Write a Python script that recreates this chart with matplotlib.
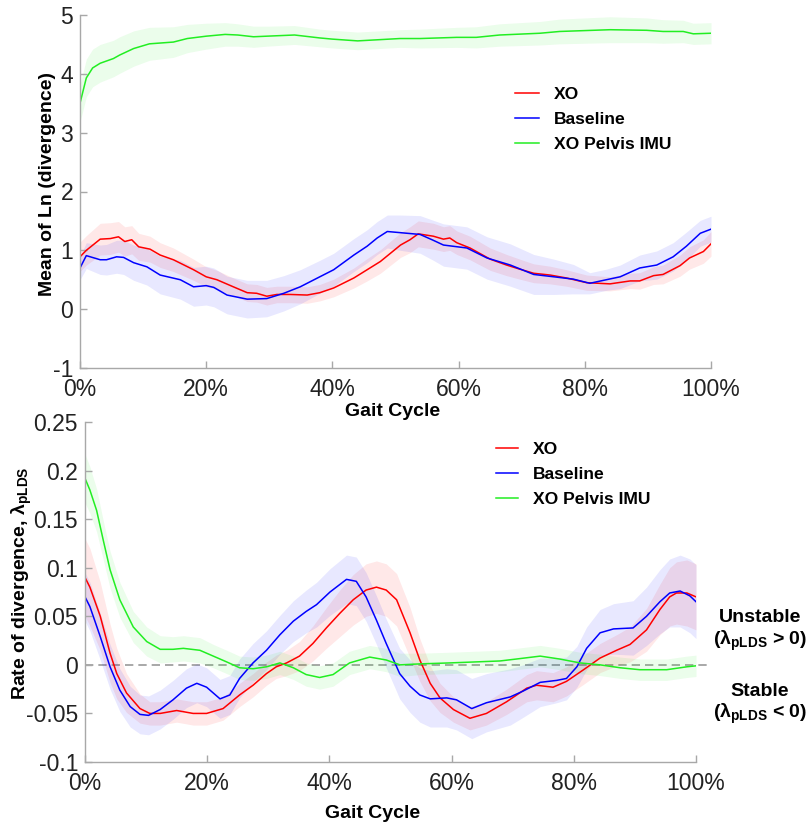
import numpy as np
import matplotlib
matplotlib.use('Agg')
import matplotlib.pyplot as plt
from matplotlib.ticker import FuncFormatter

plt.rcParams['font.family'] = ['Liberation Sans', 'DejaVu Sans']
plt.rcParams['axes.unicode_minus'] = False
plt.rcParams['mathtext.fontset'] = 'custom'
plt.rcParams['mathtext.rm'] = 'Liberation Sans'
plt.rcParams['mathtext.bf'] = 'Liberation Sans:bold'
plt.rcParams['mathtext.it'] = 'Liberation Sans:italic'

# ---- top panel: mean of ln(divergence) ----
top_xo_x = [0, 1, 3.2, 4.8, 6.1, 7.1, 8.2, 9.3, 11.1, 12.7, 14.8, 18, 20, 21.7, 24.3, 26.5, 28, 29.6,
            31.2, 33.3, 36, 38, 40.2, 43.4, 45.5, 47.6, 50.8, 52.3, 53.6, 56, 57.6, 58.6, 59.7, 61.8,
            65, 67.6, 69.7, 71.9, 74.5, 77.1, 80.3, 84, 87.2, 88.7, 90.9, 92.4, 95.1, 96.6, 98.8, 100]
top_xo_y = [0.89, 1.0, 1.19, 1.2, 1.23, 1.15, 1.18, 1.06, 1.02, 0.92, 0.84, 0.67, 0.55, 0.5, 0.38, 0.28, 0.27, 0.22,
            0.25, 0.25, 0.24, 0.28, 0.36, 0.53, 0.67, 0.81, 1.09, 1.18, 1.28, 1.24, 1.19, 1.21, 1.13, 1.04,
            0.85, 0.75, 0.68, 0.61, 0.58, 0.53, 0.45, 0.43, 0.48, 0.48, 0.57, 0.59, 0.74, 0.87, 0.98, 1.11]
top_xo_sd = [0.25, 0.25, 0.27, 0.27, 0.26, 0.25, 0.24, 0.23, 0.22, 0.21, 0.2, 0.18, 0.17, 0.16, 0.15, 0.15, 0.15, 0.15,
             0.14, 0.14, 0.14, 0.14, 0.15, 0.17, 0.19, 0.2, 0.21, 0.22, 0.22, 0.22, 0.21, 0.21, 0.2, 0.2,
             0.19, 0.18, 0.17, 0.16, 0.15, 0.14, 0.13, 0.12, 0.13, 0.14, 0.15, 0.16, 0.18, 0.19, 0.2, 0.21]

top_bl_x = [0, 1, 3.2, 4.2, 5.8, 6.9, 8.5, 10.6, 12.7, 15.9, 18, 20, 21.2, 23.3, 26.5, 29.6, 32.3, 34.9,
            38, 40.2, 43.4, 45.5, 47.1, 48.7, 50.8, 53.9, 56, 57.6, 61.3, 64.5, 68.2, 71.9, 75.1, 78.2,
            80.8, 83.4, 85.6, 88.7, 91.4, 94, 96.1, 98.3, 100]
top_bl_y = [0.7, 0.91, 0.84, 0.84, 0.89, 0.88, 0.79, 0.72, 0.58, 0.5, 0.38, 0.4, 0.37, 0.24, 0.17, 0.18, 0.27, 0.38,
            0.55, 0.67, 0.92, 1.07, 1.21, 1.32, 1.3, 1.27, 1.17, 1.09, 1.04, 0.87, 0.75, 0.59, 0.55, 0.51,
            0.44, 0.5, 0.55, 0.7, 0.75, 0.89, 1.07, 1.29, 1.36]
top_bl_sd = [0.2, 0.22, 0.25, 0.26, 0.28, 0.29, 0.3, 0.31, 0.32, 0.33, 0.33, 0.33, 0.33, 0.32, 0.32, 0.31, 0.3, 0.29,
             0.28, 0.28, 0.28, 0.28, 0.28, 0.28, 0.3, 0.32, 0.34, 0.36, 0.36, 0.36, 0.36, 0.34, 0.3, 0.25,
             0.18, 0.18, 0.2, 0.22, 0.24, 0.24, 0.24, 0.22, 0.22]

top_imu_x = [0, 1, 2, 3.2, 5.3, 6.3, 8.5, 11, 14.8, 17, 20, 23, 25, 27.5, 29.6, 34, 38, 40, 44, 50.7,
             53.9, 59.7, 62.8, 66.5, 72.9, 76, 84, 89.8, 92.4, 95.6, 97.2, 100]
top_imu_y = [3.5, 3.93, 4.1, 4.18, 4.26, 4.32, 4.43, 4.51, 4.54, 4.6, 4.64, 4.67, 4.66, 4.63, 4.64, 4.66, 4.61, 4.59,
             4.56, 4.6, 4.6, 4.62, 4.62, 4.66, 4.69, 4.72, 4.75, 4.74, 4.72, 4.72, 4.68, 4.69]
top_imu_sd = [0.32, 0.32, 0.32, 0.32, 0.31, 0.31, 0.3, 0.28, 0.26, 0.24, 0.22, 0.2, 0.19, 0.18, 0.17, 0.16, 0.15, 0.15,
              0.15, 0.15, 0.16, 0.17, 0.18, 0.19, 0.2, 0.21, 0.22, 0.21, 0.2, 0.19, 0.18, 0.18]

# ---- bottom panel: rate of divergence ----
bot_xo_x = [0, 0.8, 2.5, 4.1, 5.2, 6.8, 9, 10.6, 12.3, 15, 17.7, 19.9, 22.6, 25.3, 27.5, 29.7, 31.3, 33,
            35.1, 37.3, 39.5, 41.7, 43.9, 46, 47.7, 49.3, 51, 53.2, 54.8, 56.5, 58.1, 60.3, 63, 65.7,
            69, 72.3, 73.9, 76.6, 78.8, 81.6, 84.3, 87, 89.2, 91.9, 94.1, 95.7, 96.8, 98.5, 100]
bot_xo_y = [0.09, 0.08, 0.05, 0.012, -0.009, -0.029, -0.045, -0.05, -0.05, -0.047, -0.05, -0.05, -0.045, -0.031,
            -0.021, -0.009, -0.002, 0.002, 0.009, 0.022, 0.038, 0.053, 0.067, 0.077, 0.08, 0.077, 0.067, 0.033,
            0.005, -0.019, -0.034, -0.046, -0.055, -0.05, -0.038, -0.024, -0.021, -0.023, -0.017, -0.005,
            0.007, 0.015, 0.021, 0.036, 0.057, 0.07, 0.074, 0.074, 0.07]
bot_xo_sd = [0.04, 0.04, 0.035, 0.03, 0.026, 0.02, 0.015, 0.012, 0.012, 0.012, 0.012, 0.012, 0.012, 0.012,
             0.012, 0.012, 0.012, 0.013, 0.015, 0.018, 0.021, 0.024, 0.026, 0.027, 0.027, 0.027, 0.027, 0.026,
             0.022, 0.018, 0.015, 0.013, 0.012, 0.012, 0.013, 0.014, 0.015, 0.015, 0.015, 0.015,
             0.015, 0.016, 0.018, 0.022, 0.026, 0.03, 0.032, 0.034, 0.034]

bot_bl_x = [0, 0.8, 2.5, 4.1, 5.7, 7.4, 9, 10.4, 12.3, 14.4, 16.6, 18.3, 19.9, 22.1, 23.7, 25.3, 27.5, 29.7,
            31.9, 34.1, 36.2, 37.9, 40.1, 42.8, 44.4, 46, 47.7, 49.3, 51.5, 53.2, 54.8, 56.5, 59.2, 60.8,
            63.3, 65.7, 69.6, 71.7, 74.5, 77.2, 78.8, 80.5, 82.1, 84.3, 86.5, 89.7, 91.9, 94.1, 95.7, 97.4,
            99, 100]
bot_bl_y = [0.07, 0.06, 0.029, -0.002, -0.026, -0.043, -0.051, -0.052, -0.046, -0.036, -0.024, -0.019, -0.023,
            -0.035, -0.031, -0.014, 0.002, 0.015, 0.031, 0.045, 0.055, 0.062, 0.075, 0.088, 0.086, 0.07, 0.046,
            0.022, -0.009, -0.022, -0.031, -0.035, -0.034, -0.036, -0.045, -0.039, -0.033, -0.027, -0.018,
            -0.016, -0.014, -0.002, 0.017, 0.033, 0.037, 0.038, 0.05, 0.065, 0.074, 0.076, 0.071, 0.065]
bot_bl_sd = [0.025, 0.025, 0.024, 0.023, 0.022, 0.021, 0.02, 0.02, 0.02, 0.02, 0.02, 0.02, 0.02, 0.02, 0.02,
             0.02, 0.02, 0.02, 0.02, 0.021, 0.022, 0.023, 0.024, 0.025, 0.025, 0.025, 0.025, 0.025, 0.026,
             0.027, 0.028, 0.029, 0.03, 0.031, 0.031, 0.03, 0.029, 0.027, 0.025, 0.023, 0.022, 0.021, 0.022,
             0.024, 0.026, 0.028, 0.03, 0.033, 0.035, 0.037, 0.038, 0.038]

bot_imu_x = [0, 0.8, 1.9, 3, 4.1, 5.7, 7.9, 10.1, 12.3, 14.4, 16.1, 18.8, 21, 23.2, 25.3, 27.5, 29.7, 31.9,
             34.1, 36.2, 38.4, 40.6, 43.3, 46.6, 49.3, 51.55, 54.8, 59.7, 67.9, 70.6, 74.5, 77.7, 81, 84.3,
             87.6, 90.8, 95.2, 98.5, 100]
bot_imu_y = [0.192, 0.18, 0.159, 0.128, 0.098, 0.067, 0.039, 0.024, 0.016, 0.016, 0.017, 0.015, 0.009, 0.003,
             -0.003, -0.004, -0.002, 0.002, -0.003, -0.01, -0.013, -0.01, 0.002, 0.008, 0.005, 0.0, 0.001,
             0.002, 0.004, 0.006, 0.009, 0.006, 0.002, 0.0, -0.003, -0.005, -0.005, -0.002, -0.001]
bot_imu_sd = [0.025, 0.024, 0.022, 0.02, 0.019, 0.018, 0.016, 0.015, 0.014, 0.013, 0.013, 0.013, 0.012, 0.012,
              0.012, 0.012, 0.012, 0.012, 0.012, 0.012, 0.012, 0.012, 0.012, 0.012, 0.012, 0.012, 0.011,
              0.011, 0.011, 0.011, 0.011, 0.011, 0.011, 0.011, 0.011, 0.011, 0.011, 0.011, 0.011]

labels = ['XO', 'Baseline', 'XO Pelvis IMU']
colors = ['#ff0000', '#0000ff', '#22ee22']
xticks = [0, 20, 40, 60, 80, 100]

W, H = 806, 823
fig = plt.figure(figsize=(W / 100, H / 100), dpi=100)
ax1 = fig.add_axes([80 / W, 1 - 368 / H, 631 / W, 353 / H])
ax2 = fig.add_axes([85 / W, 1 - 762 / H, 611 / W, 340 / H])

top_series = [(top_xo_x, top_xo_y, top_xo_sd), (top_bl_x, top_bl_y, top_bl_sd), (top_imu_x, top_imu_y, top_imu_sd)]
bot_series = [(bot_xo_x, bot_xo_y, bot_xo_sd), (bot_bl_x, bot_bl_y, bot_bl_sd), (bot_imu_x, bot_imu_y, bot_imu_sd)]

for ax, series in [(ax1, top_series), (ax2, bot_series)]:
    for (x, y, sd), c in zip(series, colors):
        x = np.array(x); y = np.array(y); sd = np.array(sd)
        ax.fill_between(x, y - sd, y + sd, color=c, alpha=0.09, lw=0)
    for (x, y, sd), c, lab in zip(series, colors, labels):
        ax.plot(x, y, color=c, lw=1.1, label=lab)

ax2.plot([0, 101.8], [0, 0], ls='--', color='#9a9a9a', lw=1.2, dashes=(5, 3), clip_on=False, zorder=0.5)

pct = FuncFormatter(lambda v, p: '%d%%' % v)
for ax in (ax1, ax2):
    ax.set_xlim(0, 100)
    ax.set_xticks(xticks)
    ax.xaxis.set_major_formatter(pct)
    for s in ('top', 'right'):
        ax.spines[s].set_visible(False)
    for s in ('left', 'bottom'):
        ax.spines[s].set_color('#a8a8a8')
        ax.spines[s].set_linewidth(1.0)
    ax.tick_params(direction='in', length=5, width=1.0, color='#a8a8a8',
                   labelsize=16.5, labelcolor='#222222', pad=5)
    ax.tick_params(axis='x', pad=7)
    ax.set_xlabel('Gait Cycle', fontsize=14, fontweight='bold', va='top')

ax1.set_ylim(-1, 5)
ax1.set_yticks([-1, 0, 1, 2, 3, 4, 5])
ax1.set_ylabel('Mean of Ln (divergence)', fontsize=14, fontweight='bold')
ax1.yaxis.set_label_coords((56 - 80) / 631, (368 - 184) / 353)
ax1.xaxis.set_label_coords((393 - 80) / 631, (368 - 403) / 353)

ax2.set_ylim(-0.1, 0.25)
ax2.set_yticks([-0.1, -0.05, 0, 0.05, 0.1, 0.15, 0.2, 0.25])
ax2.yaxis.set_major_formatter(FuncFormatter(lambda v, p: ('%g' % round(v, 2))))
ax2.set_ylabel(r'Rate of divergence, $\mathbf{λ_{pLDS}}$', fontsize=14, fontweight='bold')
ax2.yaxis.set_label_coords((34 - 85) / 611, (762 - 583) / 340)
ax2.xaxis.set_label_coords((373 - 85) / 611, (762 - 805) / 340)

leg_kw = dict(frameon=False, prop={'weight': 'bold', 'size': 12.6}, borderpad=0,
              borderaxespad=0, handlelength=1.35, handletextpad=0.85, labelspacing=0.55, loc='upper left')
ax1.legend(bbox_to_anchor=(515 / W, 1 - 87 / H), bbox_transform=fig.transFigure, **leg_kw)
leg_kw['handlelength'] = 1.25
ax2.legend(bbox_to_anchor=(496 / W, 1 - 442 / H), bbox_transform=fig.transFigure, **leg_kw)

fig.text(760 / W, 1 - 617 / H, 'Unstable', ha='center', va='center', fontsize=14, fontweight='bold')
fig.text(760 / W, 1 - 641 / H, r'($\mathbf{λ_{pLDS}}$ > 0)', ha='center', va='center',
         fontsize=14, fontweight='bold')
fig.text(760 / W, 1 - 691 / H, 'Stable', ha='center', va='center', fontsize=14, fontweight='bold')
fig.text(760 / W, 1 - 714 / H, r'($\mathbf{λ_{pLDS}}$ < 0)', ha='center', va='center',
         fontsize=14, fontweight='bold')

fig.savefig('out.png', dpi=100)
